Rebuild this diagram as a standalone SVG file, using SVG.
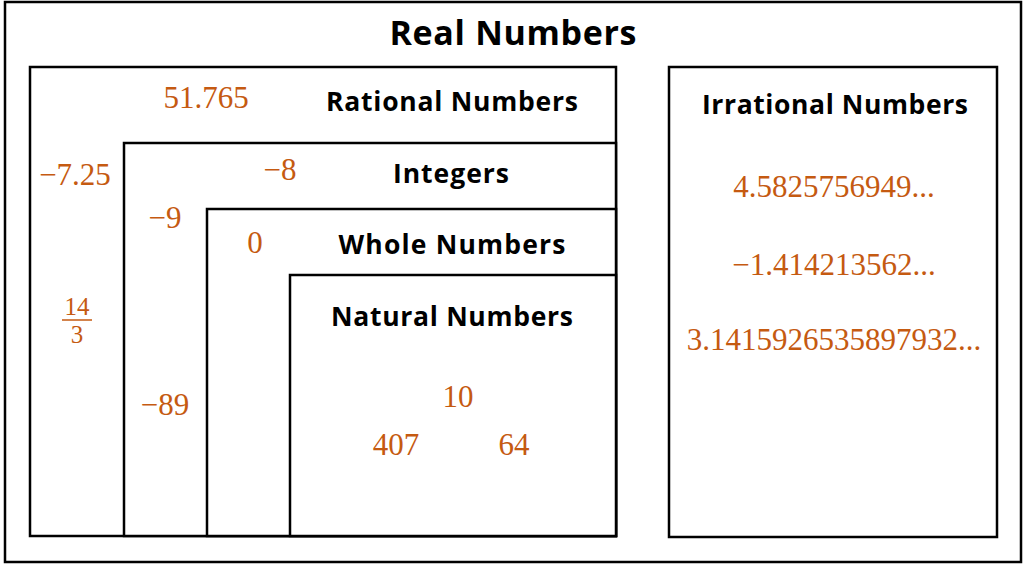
<svg xmlns="http://www.w3.org/2000/svg" width="1024" height="565" viewBox="0 0 1024 565">
<style>
.box{fill:#fff;stroke:#000;stroke-width:2.5}
.h{font-family:"Open Sans","Liberation Sans",sans-serif;font-weight:700;fill:#000;text-anchor:middle;font-size:26.5px}
.n{font-family:"Liberation Serif","DejaVu Serif",serif;fill:#C55A11;font-size:31px;text-anchor:middle}
.f{font-family:"Liberation Serif","DejaVu Serif",serif;fill:#C55A11;font-size:25px;text-anchor:middle}
</style>
<rect width="1024" height="565" fill="#fff"/>
<g id="real">
<rect class="box" x="5" y="2" width="1016" height="560"/>
<text class="h" x="513" y="45" style="font-size:34px" textLength="247">Real Numbers</text>
</g>
<g id="rational">
<rect class="box" x="30" y="67" width="586" height="469"/>
<text class="h" x="452" y="111" textLength="252">Rational Numbers</text>
<text class="n" x="206" y="108">51.765</text>
<text class="n" x="75" y="185">−7.25</text>
<text class="f" x="77" y="315">14</text>
<line x1="62" y1="320" x2="92" y2="320" stroke="#C55A11" stroke-width="1.5"/>
<text class="f" x="77" y="343">3</text>
</g>
<g id="integers">
<rect class="box" x="124" y="143" width="492" height="393"/>
<text class="h" x="451" y="183" textLength="116">Integers</text>
<text class="n" x="280" y="180">−8</text>
<text class="n" x="165" y="228">−9</text>
<text class="n" x="165" y="415">−89</text>
</g>
<g id="whole">
<rect class="box" x="207" y="209" width="409" height="327"/>
<text class="h" x="452" y="254" textLength="227">Whole Numbers</text>
<text class="n" x="255" y="253">0</text>
</g>
<g id="natural">
<rect class="box" x="290" y="275" width="326" height="261"/>
<text class="h" x="452" y="326" textLength="242">Natural Numbers</text>
<text class="n" x="458" y="407">10</text>
<text class="n" x="396" y="455">407</text>
<text class="n" x="514" y="455">64</text>
</g>
<g id="irrational">
<rect class="box" x="669" y="67" width="328" height="470"/>
<text class="h" x="835" y="114" textLength="266">Irrational Numbers</text>
<text class="n" x="834" y="197">4.5825756949...</text>
<text class="n" x="834" y="275">−1.414213562...</text>
<text class="n" x="834" y="350">3.1415926535897932...</text>
</g>
<g id="connectors"/>
</svg>
